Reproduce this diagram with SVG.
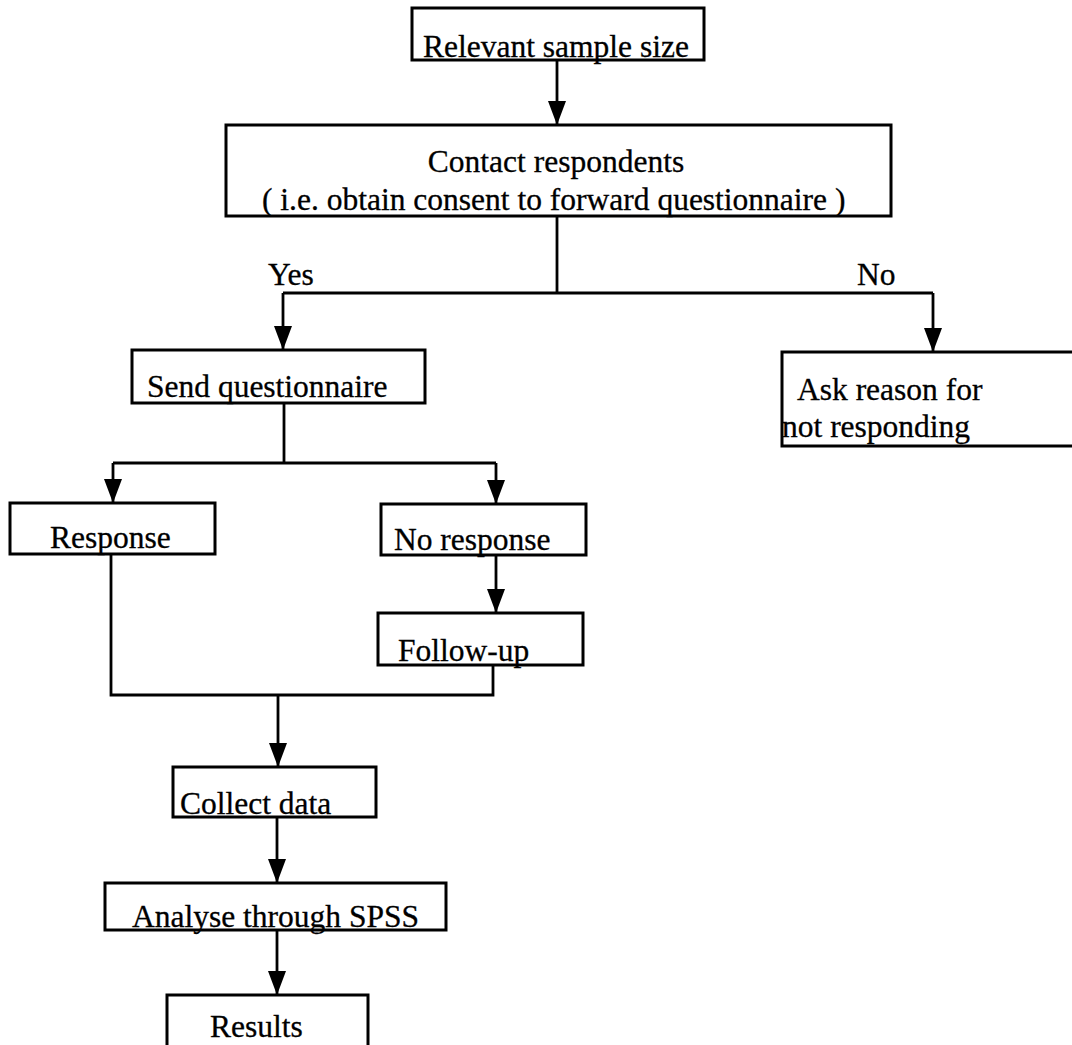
<svg xmlns="http://www.w3.org/2000/svg" width="1072" height="1045" viewBox="0 0 1072 1045">
  <style>
    .box { fill: #fff; stroke: #000; stroke-width: 3; }
    .lbl { font-family: "Liberation Serif", "Times New Roman", serif; font-size: 31.5px; fill: #000; stroke: #000; stroke-width: 0.3; }
    .wire { fill: none; stroke: #000; stroke-width: 2.8; }
  </style>
  <defs>
    <marker id="arrow" markerUnits="userSpaceOnUse" markerWidth="24" markerHeight="18" refX="24" refY="9" orient="auto">
      <path d="M0,0 L24,9 L0,18 z" fill="#000"/>
    </marker>
  </defs>
  <rect width="1072" height="1045" fill="#fff"/>

  <g id="connectors">
    <line class="wire" x1="557" y1="60" x2="557" y2="125" marker-end="url(#arrow)"/>
    <polyline class="wire" points="557,216 557,293"/>
    <polyline class="wire" points="283,293 933,293"/>
    <line class="wire" x1="283" y1="293" x2="283" y2="350" marker-end="url(#arrow)"/>
    <line class="wire" x1="933" y1="293" x2="933" y2="352" marker-end="url(#arrow)"/>
    <polyline class="wire" points="284,403 284,463"/>
    <polyline class="wire" points="113,463 496,463"/>
    <line class="wire" x1="113" y1="463" x2="113" y2="503" marker-end="url(#arrow)"/>
    <line class="wire" x1="496" y1="463" x2="496" y2="504" marker-end="url(#arrow)"/>
    <line class="wire" x1="496" y1="555" x2="496" y2="613" marker-end="url(#arrow)"/>
    <polyline class="wire" points="111,554 111,695 493,695 493,665"/>
    <line class="wire" x1="278" y1="695" x2="278" y2="767" marker-end="url(#arrow)"/>
    <line class="wire" x1="277" y1="817" x2="277" y2="883" marker-end="url(#arrow)"/>
    <line class="wire" x1="277" y1="930" x2="277" y2="995" marker-end="url(#arrow)"/>
    <text class="lbl" x="268" y="285">Yes</text>
    <text class="lbl" x="857" y="285">No</text>
  </g>

  <g id="sample-size">
    <rect class="box" x="412" y="8" width="292" height="52"/>
    <text class="lbl" x="423" y="57">Relevant sample size</text>
  </g>

  <g id="contact">
    <rect class="box" x="226" y="125" width="665" height="91"/>
    <text class="lbl" x="556" y="172" text-anchor="middle">Contact respondents</text>
    <text class="lbl" x="262" y="210">( i.e. obtain consent to forward questionnaire )</text>
  </g>

  <g id="send">
    <rect class="box" x="132" y="350" width="293" height="53"/>
    <text class="lbl" x="147" y="397">Send questionnaire</text>
  </g>

  <g id="ask-reason">
    <rect class="box" x="782" y="352" width="300" height="94"/>
    <text class="lbl" x="797" y="400">Ask reason for</text>
    <text class="lbl" x="782" y="437">not responding</text>
  </g>

  <g id="response">
    <rect class="box" x="10" y="503" width="205" height="51"/>
    <text class="lbl" x="50" y="548">Response</text>
  </g>

  <g id="no-response">
    <rect class="box" x="381" y="504" width="205" height="51"/>
    <text class="lbl" x="394" y="550">No response</text>
  </g>

  <g id="follow-up">
    <rect class="box" x="378" y="613" width="205" height="52"/>
    <text class="lbl" x="398" y="661">Follow-up</text>
  </g>

  <g id="collect">
    <rect class="box" x="173" y="767" width="203" height="50"/>
    <text class="lbl" x="180" y="814">Collect data</text>
  </g>

  <g id="analyse">
    <rect class="box" x="105" y="883" width="341" height="47"/>
    <text class="lbl" x="132" y="927">Analyse through SPSS</text>
  </g>

  <g id="results">
    <rect class="box" x="167" y="995" width="201" height="52"/>
    <text class="lbl" x="210" y="1037">Results</text>
  </g>
</svg>
